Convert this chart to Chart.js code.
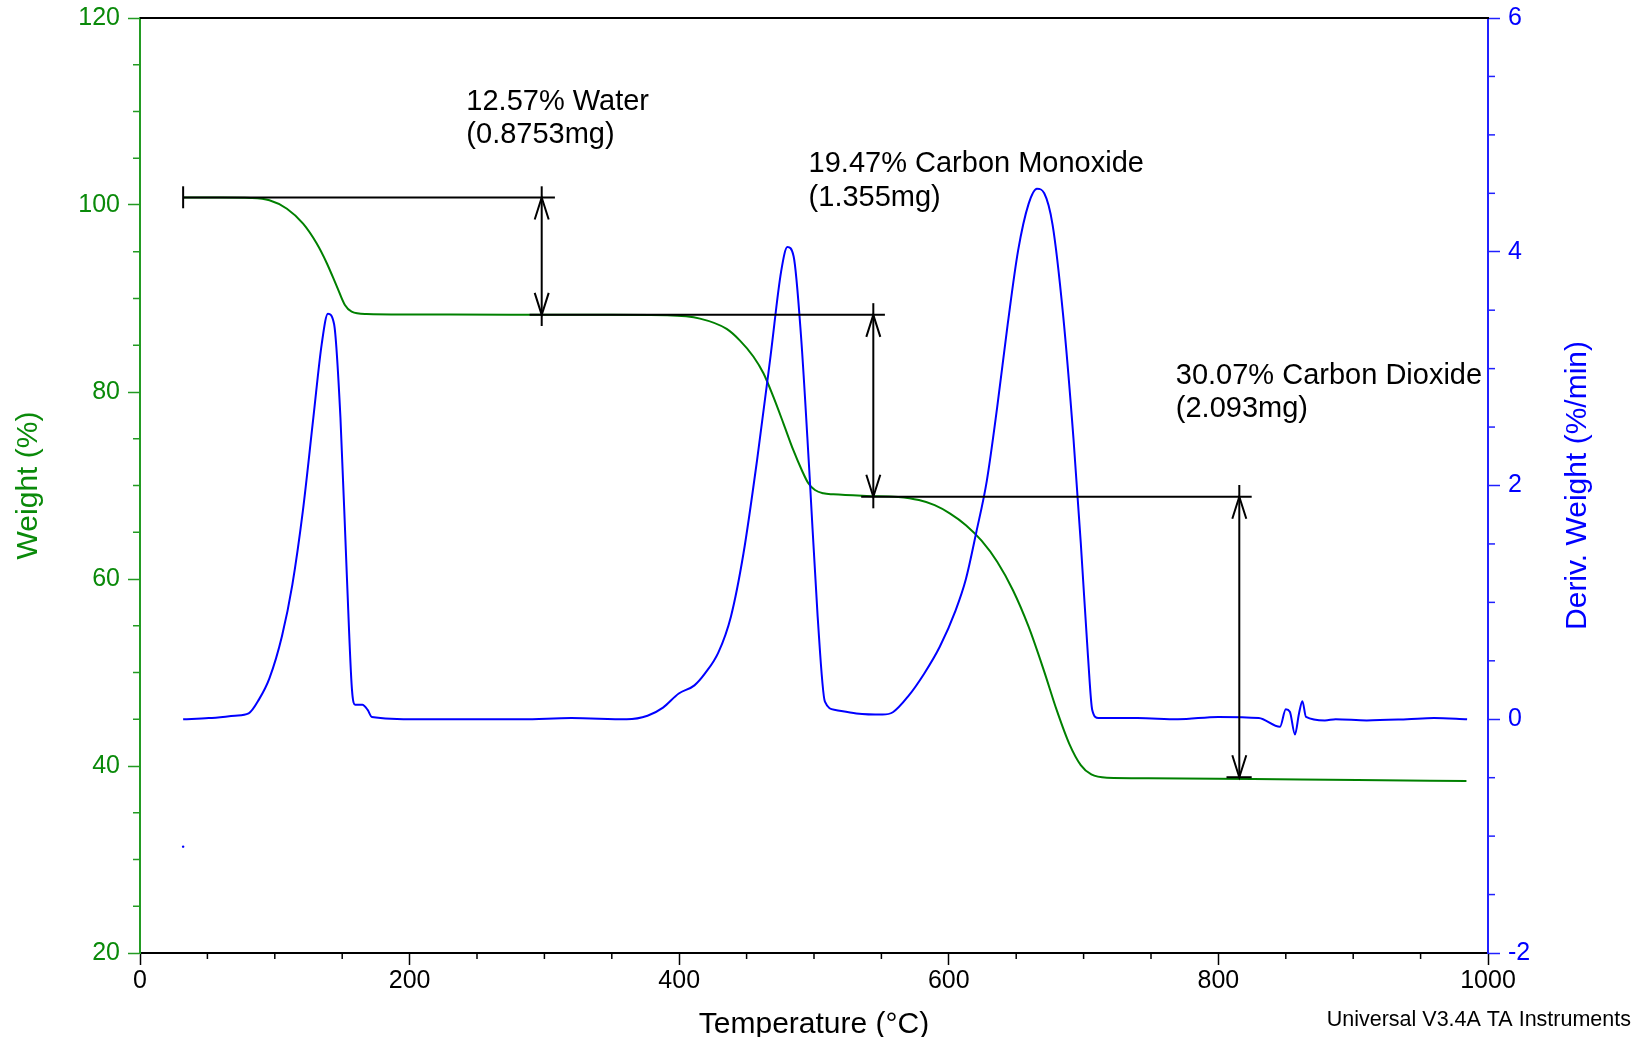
<!DOCTYPE html>
<html><head><meta charset="utf-8">
<script src="https://cdn.jsdelivr.net/npm/chart.js@4.4.1/dist/chart.umd.min.js"></script>
<style>html,body{margin:0;padding:0;background:#fff;overflow:hidden}#wrap{width:1636px;height:1037px;position:relative}</style>
</head><body><div id="wrap"><canvas id="c" width="1636" height="1037"></canvas></div>
<script>
// ---------- data ----------
const tempW = [32, 60, 82, 96, 109, 121, 131, 138.5, 146, 152, 157, 168, 200, 275, 350, 391, 415.4, 435.2, 445.1, 455, 462.5, 469.8, 477.3, 484.6, 490.9, 495.8, 500.7, 506.9, 514.3, 539, 562.4, 577.8, 589.5, 601, 612.7, 624.3, 635.9, 647.6, 659.2, 670.8, 680, 689.3, 697.9, 705.7, 717.3, 748, 826, 903, 984];
const weight = [100.8, 100.8, 100.75, 100.5, 99.6, 98.0, 95.9, 93.8, 91.3, 89.3, 88.6, 88.35, 88.3, 88.25, 88.25, 88.2, 87.85, 86.75, 85.5, 83.8, 82.0, 79.5, 76.65, 73.8, 71.66, 70.24, 69.52, 69.17, 69.06, 68.88, 68.77, 68.44, 67.9, 67.0, 65.76, 64.1, 61.85, 58.8, 54.9, 50.1, 46.0, 42.4, 40.1, 39.1, 38.75, 38.7, 38.6, 38.5, 38.4];

const tempD = [32, 51, 70.5, 80.6, 88.3, 96, 105.3, 113, 120.8, 128.6, 134.8, 139.4, 144, 148.7, 153.4, 157.2, 159.6, 165, 168.9, 172, 206, 250, 283.5, 320, 361, 376.5, 388, 399.7, 411.3, 419, 429, 438.4, 447.7, 457.8, 467.9, 475.6, 480.3, 484.9, 490.3, 496.5, 502.7, 508.1, 515.9, 531.4, 550.8, 558.5, 570.1, 581.7, 593.3, 605, 612.7, 620.4, 628.2, 635.9, 643.7, 651.4, 659.2, 665.4, 670.8, 677, 684.7, 692.5, 697.9, 703.3, 706.4, 711, 740, 770, 800, 830, 845.7, 850, 853, 856.8, 859.8, 862.3, 865, 879, 887, 910, 940, 960, 984.5];
const deriv = [0.0, 0.01, 0.03, 0.05, 0.17, 0.35, 0.71, 1.15, 1.78, 2.58, 3.21, 3.47, 3.38, 2.58, 1.24, 0.26, 0.125, 0.125, 0.08, 0.02, 0.0, 0.0, 0.0, 0.01, 0.0, 0.03, 0.1, 0.22, 0.29, 0.39, 0.57, 0.88, 1.42, 2.22, 3.12, 3.83, 4.04, 3.96, 3.29, 2.13, 0.88, 0.15, 0.08, 0.05, 0.04, 0.06, 0.2, 0.39, 0.62, 0.93, 1.2, 1.6, 2.04, 2.67, 3.38, 4.01, 4.41, 4.54, 4.5, 4.23, 3.47, 2.4, 1.51, 0.53, 0.08, 0.01, 0.01, 0.0, 0.02, 0.01, -0.065, 0.085, 0.065, -0.13, 0.05, 0.155, 0.02, -0.01, 0.0, -0.01, 0.0, 0.01, 0.0];

const strayT = [32];
const strayD = [-1.09];

const xMajorTicks = [0, 200, 400, 600, 800, 1000];
const yLeftMajorTicks = [20, 40, 60, 80, 100, 120];
const yRightMajorTicks = [-2, 0, 2, 4, 6];

// step annotations (data units)
const hLineLevel = [100.8, 88.25, 68.8, 38.8];
const hLineFrom  = [32, 289, 535, 806];
const hLineTo    = [307.8, 552.6, 824.7, 824.7];
const startBarT = 32, startBarTop = 102.0, startBarBottom = 99.65;
const arrowT      = [298, 544, 815.5];
const arrowTop    = [100.8, 88.25, 68.8];
const arrowBottom = [88.25, 68.8, 38.8];
const arrowLineTop    = [102.0, 89.5, 70.05];
const arrowLineBottom = [87.06, 67.56, 38.8];
const labelT = [242.1, 496, 768.4];
const labelW = [110.2, 103.5, 80.86];
const labelLine1 = ['12.57% Water', '19.47% Carbon Monoxide', '30.07% Carbon Dioxide'];
const labelLine2 = ['(0.8753mg)', '(1.355mg)', '(2.093mg)'];

// ---------- style ----------
const FONT = "'Liberation Sans', Arial, Helvetica, sans-serif";
const GREEN = '#008000', GREEN_LBL = '#0a8a0a', GREEN_AX = '#239b23';
const BLUE = '#0000ff', BLUE_AX = '#2020ff';

const pts = (xs, ys) => xs.map((v, i) => ({x: v, y: ys[i]}));

const decor = {
  id: 'decor',
  afterDatasetsDraw(chart) {
    const {ctx, scales: {x, y}} = chart;
    ctx.save();
    ctx.strokeStyle = '#000';
    ctx.lineWidth = 2;
    ctx.lineCap = 'butt';
    const X = v => x.getPixelForValue(v), Y = v => y.getPixelForValue(v);
    hLineLevel.forEach((lv, i) => {
      ctx.beginPath(); ctx.moveTo(X(hLineFrom[i]), Y(lv)); ctx.lineTo(X(hLineTo[i]), Y(lv)); ctx.stroke();
    });
    ctx.beginPath(); ctx.moveTo(X(startBarT), Y(startBarTop)); ctx.lineTo(X(startBarT), Y(startBarBottom)); ctx.stroke();
    arrowT.forEach((t, i) => {
      const px = X(t);
      ctx.beginPath(); ctx.moveTo(px, Y(arrowLineTop[i])); ctx.lineTo(px, Y(arrowLineBottom[i])); ctx.stroke();
      const yt = Y(arrowTop[i]), yb = Y(arrowBottom[i]);
      ctx.beginPath();
      ctx.moveTo(px - 7, yt + 22); ctx.lineTo(px, yt); ctx.lineTo(px + 7, yt + 22);
      ctx.moveTo(px - 7, yb - 22); ctx.lineTo(px, yb); ctx.lineTo(px + 7, yb - 22);
      ctx.stroke();
    });
    ctx.fillStyle = '#000';
    ctx.font = '29px ' + FONT;
    ctx.textAlign = 'left';
    ctx.textBaseline = 'alphabetic';
    labelT.forEach((t, i) => {
      ctx.fillText(labelLine1[i], X(t), Y(labelW[i]));
      ctx.fillText(labelLine2[i], X(t), Y(labelW[i]) + 33.4);
    });
    ctx.restore();
  },
  afterDraw(chart) {
    const {ctx, chartArea: a, scales: {x, y, y2}} = chart;
    ctx.save();
    ctx.strokeStyle = '#000'; ctx.lineWidth = 2;
    ctx.beginPath(); ctx.moveTo(a.left, a.top); ctx.lineTo(a.right + 1, a.top); ctx.stroke();
    ctx.lineWidth = 1.5;
    ctx.strokeStyle = '#000';
    x.ticks.forEach(t => {
      if (xMajorTicks.includes(t.value)) return;
      const p = x.getPixelForValue(t.value);
      ctx.beginPath(); ctx.moveTo(p, a.bottom); ctx.lineTo(p, a.bottom + 6); ctx.stroke();
    });
    ctx.strokeStyle = GREEN_AX;
    y.ticks.forEach(t => {
      if (yLeftMajorTicks.includes(t.value)) return;
      const p = y.getPixelForValue(t.value);
      ctx.beginPath(); ctx.moveTo(a.left, p); ctx.lineTo(a.left - 7, p); ctx.stroke();
    });
    ctx.strokeStyle = BLUE_AX;
    y2.ticks.forEach(t => {
      if (yRightMajorTicks.includes(t.value)) return;
      const p = y2.getPixelForValue(t.value);
      ctx.beginPath(); ctx.moveTo(a.right, p); ctx.lineTo(a.right + 7, p); ctx.stroke();
    });
    ctx.fillStyle = BLUE;
    ctx.font = '30px ' + FONT;
    ctx.textAlign = 'center';
    ctx.textBaseline = 'middle';
    ctx.translate(1578, (a.top + a.bottom) / 2);
    ctx.rotate(-Math.PI / 2);
    ctx.fillText('Deriv. Weight (%/min)', 0, 0);
    ctx.restore();
    ctx.save();
    ctx.fillStyle = '#000';
    ctx.font = '21.5px ' + FONT;
    ctx.textAlign = 'right';
    ctx.textBaseline = 'middle';
    ctx.fillText('Universal V3.4A TA Instruments', 1631, 1020);
    ctx.restore();
  }
};

const noPad = s => { s.paddingTop = 0; s.paddingBottom = 0; };

new Chart(document.getElementById('c'), {
  type: 'line',
  data: {
    datasets: [
      { label: 'Deriv. Weight', data: pts(tempD, deriv), yAxisID: 'y2', borderColor: BLUE, borderWidth: 2, pointRadius: 0, cubicInterpolationMode: 'monotone', fill: false },
      { label: 'Weight', data: pts(tempW, weight), yAxisID: 'y', borderColor: GREEN, borderWidth: 2, pointRadius: 0, cubicInterpolationMode: 'monotone', fill: false },
      { label: 'stray', data: pts(strayT, strayD), yAxisID: 'y2', showLine: false, pointRadius: 1.2, pointBackgroundColor: BLUE, pointBorderWidth: 0 }
    ]
  },
  options: {
    responsive: false,
    animation: false,
    layout: { padding: { top: 18, left: 0, right: 0, bottom: 0 } },
    plugins: { legend: { display: false }, tooltip: { enabled: false } },
    scales: {
      x: {
        type: 'linear', position: 'bottom', min: 0, max: 1000,
        ticks: { stepSize: 50, autoSkip: false, maxRotation: 0, padding: 1, color: '#000', font: { family: FONT, size: 25 },
                 callback: v => xMajorTicks.includes(v) ? String(v) : '' },
        grid: { drawOnChartArea: false, drawTicks: true, tickLength: 12, tickWidth: 1.5,
                tickColor: c => (c.tick && xMajorTicks.includes(c.tick.value)) ? '#000' : 'rgba(0,0,0,0)' },
        border: { color: '#000', width: 2 },
        title: { display: true, text: 'Temperature (°C)', color: '#000', font: { family: FONT, size: 30 }, padding: { top: 0, bottom: -6 } },
        afterFit: s => { s.height = 84; }
      },
      y: {
        type: 'linear', position: 'left', min: 20, max: 120,
        ticks: { stepSize: 5, autoSkip: false, padding: 8, color: GREEN_LBL, font: { family: FONT, size: 25 },
                 callback: v => yLeftMajorTicks.includes(v) ? String(v) : '' },
        grid: { drawOnChartArea: false, drawTicks: true, tickLength: 12, tickWidth: 1.5,
                tickColor: c => (c.tick && yLeftMajorTicks.includes(c.tick.value)) ? GREEN_AX : 'rgba(0,0,0,0)' },
        border: { color: GREEN_AX, width: 2 },
        title: { display: true, text: 'Weight (%)', color: GREEN_LBL, font: { family: FONT, size: 30 }, padding: { top: 11, bottom: 0 } },
        afterFit: s => { s.width = 140; noPad(s); }
      },
      y2: {
        type: 'linear', position: 'right', min: -2, max: 6,
        ticks: { stepSize: 0.5, autoSkip: false, padding: 8, color: BLUE, font: { family: FONT, size: 25 },
                 callback: v => yRightMajorTicks.includes(v) ? String(v) : '' },
        grid: { drawOnChartArea: false, drawTicks: true, tickLength: 12, tickWidth: 1.5,
                tickColor: c => (c.tick && yRightMajorTicks.includes(c.tick.value)) ? BLUE_AX : 'rgba(0,0,0,0)' },
        border: { color: BLUE_AX, width: 2 },
        afterFit: s => { s.width = 148; noPad(s); }
      }
    }
  },
  plugins: [decor]
});
</script>
</body></html>
